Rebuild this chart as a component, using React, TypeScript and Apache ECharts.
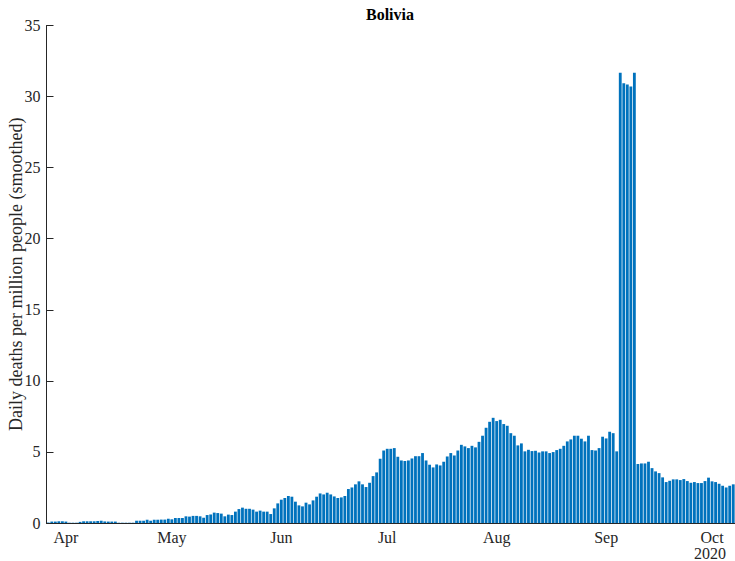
import { useEffect, useRef } from 'react';
import * as echarts from 'echarts';

// daily deaths per million (smoothed), Bolivia, 27 Mar – 7 Oct 2020
const marchDeaths = [0.03, 0.1, 0.1, 0.12, 0.12];
const aprilDeaths = [
  0.1, 0.02, 0.02, 0.02, 0.08, 0.12, 0.12, 0.12, 0.12, 0.14, 0.16, 0.11, 0.1, 0.1, 0.1,
  0.02, 0.02, 0.02, 0.02, 0.02, 0.16, 0.16, 0.16, 0.23, 0.16, 0.23, 0.23, 0.24, 0.24, 0.3,
];
const mayDeaths = [
  0.26, 0.35, 0.35, 0.35, 0.47, 0.45, 0.5, 0.5, 0.47, 0.37, 0.56, 0.6, 0.73, 0.7, 0.66, 0.47,
  0.59, 0.56, 0.8, 0.98, 1.08, 1.0, 1.0, 0.94, 0.8, 0.87, 0.8, 0.8, 0.63, 1.03, 1.38,
];
const juneDeaths = [
  1.64, 1.76, 1.9, 1.85, 1.5, 1.24, 1.17, 1.43, 1.31, 1.59, 1.85, 2.08, 2.01, 2.13, 2.01,
  1.87, 1.76, 1.8, 1.9, 2.39, 2.5, 2.72, 2.93, 2.72, 2.53, 2.83, 3.3, 3.56, 4.52, 5.1,
];
const julyDeaths = [
  5.22, 5.22, 5.27, 4.66, 4.4, 4.36, 4.4, 4.54, 4.7, 4.7, 4.92, 4.4, 4.1, 3.91, 4.12, 4.05,
  4.31, 4.68, 4.92, 4.75, 5.1, 5.5, 5.39, 5.27, 5.43, 5.32, 5.71, 6.14, 6.7, 7.12, 7.4,
];
const augustDeaths = [
  7.17, 7.26, 6.96, 6.84, 6.32, 6.14, 5.46, 5.6, 5.04, 5.15, 5.06, 5.08, 4.96, 5.04, 5.04, 4.92,
  4.99, 5.13, 5.22, 5.43, 5.74, 5.88, 6.14, 6.14, 5.93, 5.74, 6.14, 5.13, 5.1, 5.27, 6.07,
];
const septemberDeaths = [
  5.95, 6.42, 6.32, 5.04, 31.67, 30.94, 30.85, 30.7, 31.67, 4.15, 4.19, 4.19, 4.31, 3.86, 3.63,
  3.51, 3.21, 2.88, 2.97, 3.07, 3.07, 3.02, 3.09, 2.95, 2.83, 2.88, 2.81, 2.81, 2.95, 3.19,
];
const octoberDeaths = [2.93, 2.88, 2.76, 2.62, 2.5, 2.62, 2.72];

const yTicks = [0, 5, 10, 15, 20, 25, 30, 35];
const monthNames = ['Jan', 'Feb', 'Mar', 'Apr', 'May', 'Jun', 'Jul', 'Aug', 'Sep', 'Oct', 'Nov', 'Dec'];

const values = [
  ...marchDeaths,
  ...aprilDeaths,
  ...mayDeaths,
  ...juneDeaths,
  ...julyDeaths,
  ...augustDeaths,
  ...septemberDeaths,
  ...octoberDeaths,
];

// one category per day starting 27 Mar 2020
const dates = values.map((_, i) => {
  const d = new Date(Date.UTC(2020, 2, 27 + i));
  return d.toISOString().slice(0, 10);
});

const isMonthStart = (_: number, value: string) => value.endsWith('-01');
const axisColor = '#262626';
const font = 'Liberation Serif';

export default function App() {
  const chartRef = useRef<HTMLDivElement>(null);

  useEffect(() => {
    if (!chartRef.current) return;
    const chart = echarts.init(chartRef.current, undefined, { renderer: 'svg' });
    chart.setOption({
      animation: false,
      grid: { left: 46.5, right: 0, top: 25.5, bottom: 38, outerBoundsMode: 'none' },
      xAxis: {
        type: 'category',
        data: dates,
        z: 3,
        axisLine: { lineStyle: { color: axisColor, width: 1 } },
        axisTick: {
          inside: true,
          length: 7,
          alignWithLabel: true,
          interval: isMonthStart,
          lineStyle: { color: axisColor },
        },
        axisLabel: {
          interval: isMonthStart,
          formatter: (v: string) => monthNames[Number(v.slice(5, 7)) - 1],
          margin: 6,
          color: axisColor,
          fontFamily: font,
          fontSize: 16,
        },
        splitLine: { show: false },
      },
      yAxis: {
        type: 'value',
        min: yTicks[0],
        max: yTicks[yTicks.length - 1],
        interval: 5,
        z: 3,
        name: 'Daily deaths per million people (smoothed)',
        nameLocation: 'middle',
        nameRotate: 90,
        nameGap: 22,
        nameMoveOverlap: false,
        nameTextStyle: { color: axisColor, fontFamily: font, fontSize: 18 },
        axisLine: { show: true, lineStyle: { color: axisColor, width: 1 } },
        axisTick: { show: true, inside: true, length: 7, lineStyle: { color: axisColor } },
        axisLabel: { margin: 6, color: axisColor, fontFamily: font, fontSize: 16 },
        splitLine: { show: false },
      },
      series: [
        {
          type: 'bar',
          data: values,
          barCategoryGap: '20%',
          itemStyle: { color: '#0072BD' },
        },
      ],
      graphic: [
        {
          type: 'text',
          x: 390,
          y: 14,
          style: {
            text: 'Bolivia',
            fill: '#000',
            font: `bold 16px "${font}"`,
            textAlign: 'center',
            textVerticalAlign: 'middle',
          },
        },
        {
          type: 'text',
          x: 710,
          y: 553,
          style: {
            text: '2020',
            fill: axisColor,
            font: `16px "${font}"`,
            textAlign: 'center',
            textVerticalAlign: 'middle',
          },
        },
      ],
    });
    return () => chart.dispose();
  }, []);

  return (
    <div
      ref={chartRef}
      style={{ position: 'fixed', left: 0, top: 0, width: 735, height: 561, background: '#fff' }}
    />
  );
}
